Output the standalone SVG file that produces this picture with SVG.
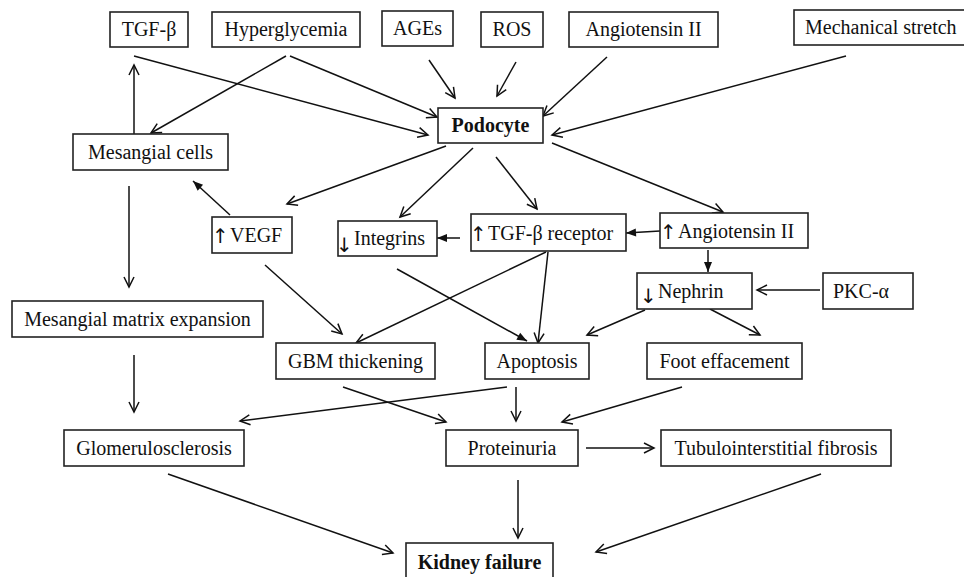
<svg xmlns="http://www.w3.org/2000/svg" width="964" height="577" viewBox="0 0 964 577">
<style>
.b{fill:#fff;stroke:#222;stroke-width:1.6}
text{font-family:"Liberation Serif","Times New Roman",serif;font-size:20px;fill:#111}
.c{text-anchor:middle}
.bold{font-weight:bold}
.ar{font-family:"DejaVu Sans",sans-serif;font-size:20px;fill:#111}
.l{fill:none;stroke:#111;stroke-width:1.5}
.o{marker-end:url(#open)}
.f{marker-end:url(#fill)}
</style>
<defs>
<marker id="open" markerWidth="12" markerHeight="12" refX="11" refY="6" orient="auto" markerUnits="userSpaceOnUse" overflow="visible">
<path d="M1,1 L11,6 L1,11" fill="none" stroke="#111" stroke-width="1.5"/>
</marker>
<marker id="fill" markerWidth="12" markerHeight="12" refX="10" refY="5" orient="auto" markerUnits="userSpaceOnUse" overflow="visible">
<path d="M0,1 L10,5 L0,9 z" fill="#111"/>
</marker>
</defs>
<rect width="964" height="577" fill="#fff"/>
<g id="connectors">
<line class="l o" x1="134" y1="56" x2="428" y2="135"/>
<line class="l o" x1="290" y1="56" x2="437" y2="117"/>
<line class="l o" x1="286" y1="56" x2="151" y2="133"/>
<line class="l o" x1="134" y1="134" x2="134" y2="65"/>
<line class="l o" x1="429" y1="60" x2="455" y2="98"/>
<line class="l o" x1="516" y1="62" x2="497" y2="96"/>
<line class="l o" x1="607" y1="57" x2="543" y2="116"/>
<line class="l o" x1="846" y1="56" x2="552" y2="135"/>
<line class="l o" x1="446" y1="146" x2="287" y2="204"/>
<line class="l o" x1="473" y1="148" x2="400" y2="217"/>
<line class="l o" x1="496" y1="157" x2="537" y2="209"/>
<line class="l o" x1="552" y1="143" x2="723" y2="212"/>
<line class="l f" x1="230" y1="215" x2="193" y2="181"/>
<line class="l o" x1="129" y1="186" x2="129" y2="287"/>
<line class="l f" x1="460" y1="238" x2="437" y2="238"/>
<line class="l f" x1="660" y1="231" x2="626" y2="233"/>
<line class="l f" x1="708" y1="250" x2="708" y2="272"/>
<line class="l o" x1="820" y1="290" x2="757" y2="290"/>
<line class="l o" x1="265" y1="265" x2="342" y2="334"/>
<line class="l o" x1="546" y1="252" x2="356" y2="343"/>
<line class="l f" x1="397" y1="269" x2="527" y2="341"/>
<line class="l o" x1="548" y1="252" x2="538" y2="343"/>
<line class="l o" x1="645" y1="310" x2="587" y2="335"/>
<line class="l o" x1="710" y1="309" x2="760" y2="335"/>
<line class="l o" x1="134" y1="355" x2="134" y2="412"/>
<line class="l o" x1="507" y1="387" x2="240" y2="421"/>
<line class="l o" x1="343" y1="387" x2="446" y2="422"/>
<line class="l o" x1="516" y1="387" x2="516" y2="421"/>
<line class="l o" x1="682" y1="387" x2="562" y2="422"/>
<line class="l o" x1="586" y1="448" x2="654" y2="448"/>
<line class="l o" x1="168" y1="474" x2="393" y2="553"/>
<line class="l o" x1="518" y1="480" x2="518" y2="538"/>
<line class="l o" x1="821" y1="474" x2="596" y2="552"/>
</g>
<g id="n-tgfb"><rect class="b" x="110" y="12" width="78" height="35"/><text class="c" x="149" y="36">TGF-β</text></g>
<g id="n-hyper"><rect class="b" x="212" y="12" width="148" height="35"/><text class="c" x="286" y="36">Hyperglycemia</text></g>
<g id="n-ages"><rect class="b" x="382" y="11" width="71" height="35"/><text class="c" x="417.5" y="35">AGEs</text></g>
<g id="n-ros"><rect class="b" x="481" y="12" width="62" height="35"/><text class="c" x="512" y="36">ROS</text></g>
<g id="n-ang-top"><rect class="b" x="569" y="12" width="149" height="35"/><text class="c" x="643.5" y="36">Angiotensin II</text></g>
<g id="n-mech"><rect class="b" x="794" y="10" width="180" height="35"/><text x="805" y="34">Mechanical stretch</text></g>
<g id="n-podocyte"><rect class="b" x="438" y="108" width="105" height="35"/><text class="c bold" x="490.5" y="132">Podocyte</text></g>
<g id="n-mesangial"><rect class="b" x="73" y="134" width="155" height="36"/><text class="c" x="150.5" y="159">Mesangial cells</text></g>
<g id="n-vegf"><rect class="b" x="212" y="217" width="80" height="36"/><text x="212" y="243"><tspan class="ar">↑</tspan><tspan x="230" y="242">VEGF</tspan></text></g>
<g id="n-integrins"><rect class="b" x="338" y="221" width="99" height="35"/><text x="336" y="252"><tspan class="ar">↓</tspan><tspan x="354" y="245">Integrins</tspan></text></g>
<g id="n-tgfbr"><rect class="b" x="471" y="214" width="155" height="37"/><text x="470" y="241"><tspan class="ar">↑</tspan><tspan x="488" y="240">TGF-β receptor</tspan></text></g>
<g id="n-ang"><rect class="b" x="660" y="213" width="148" height="35"/><text x="660" y="239"><tspan class="ar">↑</tspan><tspan x="678" y="238">Angiotensin II</tspan></text></g>
<g id="n-nephrin"><rect class="b" x="637" y="273" width="115" height="36"/><text x="640" y="303"><tspan class="ar">↓</tspan><tspan x="658" y="298">Nephrin</tspan></text></g>
<g id="n-pkc"><rect class="b" x="823" y="273" width="90" height="36"/><text x="833" y="298">PKC-α</text></g>
<g id="n-mme"><rect class="b" x="12" y="301" width="251" height="36"/><text class="c" x="137.5" y="326">Mesangial matrix expansion</text></g>
<g id="n-gbm"><rect class="b" x="276" y="343" width="159" height="36"/><text class="c" x="355.5" y="368">GBM thickening</text></g>
<g id="n-apoptosis"><rect class="b" x="485" y="343" width="104" height="36"/><text class="c" x="537" y="368">Apoptosis</text></g>
<g id="n-foot"><rect class="b" x="647" y="343" width="155" height="36"/><text class="c" x="724.5" y="368">Foot effacement</text></g>
<g id="n-glomerulo"><rect class="b" x="64" y="430" width="180" height="36"/><text class="c" x="154" y="455">Glomerulosclerosis</text></g>
<g id="n-proteinuria"><rect class="b" x="446" y="430" width="132" height="36"/><text class="c" x="512" y="455">Proteinuria</text></g>
<g id="n-tubulo"><rect class="b" x="661" y="430" width="230" height="36"/><text class="c" x="776" y="455">Tubulointerstitial fibrosis</text></g>
<g id="n-kidney"><rect class="b" x="406" y="543" width="147" height="40"/><text class="c bold" x="479.5" y="569">Kidney failure</text></g>
</svg>
